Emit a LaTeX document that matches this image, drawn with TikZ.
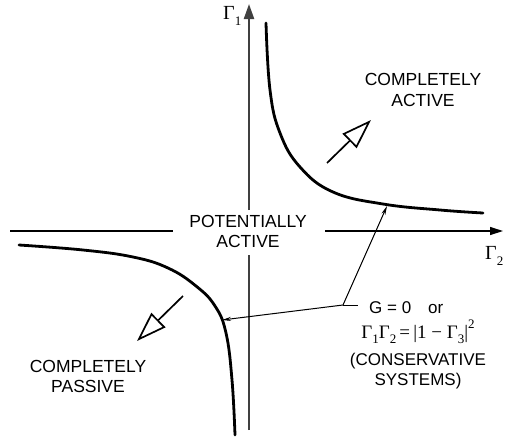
\documentclass[tikz,border=0pt]{standalone}
\usepackage{fontspec}
\setmainfont{Liberation Sans}
\newfontfamily\gfont{Liberation Serif}
\newcommand\Gsub[1]{\raisebox{-0.3em}{\fontsize{13}{13}\selectfont\gfont #1}}
\newcommand\Gsup[1]{\raisebox{0.5em}{\fontsize{13}{13}\selectfont\gfont #1}}
\usetikzlibrary{arrows.meta}
\begin{document}
\begin{tikzpicture}[x=1pt,y=-1pt,
  lbl/.style={font=\fontsize{17.5}{21}\selectfont, inner sep=0pt, anchor=base},
  slbl/.style={font=\fontsize{17}{20}\selectfont, inner sep=0pt, anchor=base},
  glbl/.style={font=\fontsize{20}{22}\selectfont\gfont, inner sep=0pt, anchor=base west},
  curve/.style={line width=2.8pt, line cap=round},
  vaxis/.style={line width=2.2pt, draw=black!75},
  haxis/.style={line width=1.3pt},
  big/.style={line width=1.7pt, -{Triangle[open, length=30pt, width=20pt, line width=1.7pt]}},
  lead/.style={line width=1pt, -{Stealth[length=9pt, width=4pt]}}
]
\useasboundingbox (0,0) rectangle (505,442);

% axes
\coordinate (vb) at (249,430);
\coordinate (vg1) at (249,255);
\coordinate (vg2) at (249,210);
\coordinate (vt) at (249,4);
\draw[vaxis] (vb) -- (vg1);
\draw[vaxis, -{Triangle[length=15pt, width=10pt]}] (vg2) -- (vt);
\coordinate (hl1) at (10,231);
\coordinate (hl2) at (173,231);
\coordinate (hr1) at (325,231);
\coordinate (hr2) at (503,231);
\draw[haxis] (hl1) -- (hl2);
\draw[haxis, -{Triangle[length=13pt, width=8pt]}] (hr1) -- (hr2);

\node[glbl] (g1) at (223,19) {Γ\Gsub{1}};
\node[glbl] (g2) at (485,259) {Γ\Gsub{2}};

% curves
\draw[curve] plot[smooth, tension=0.7] coordinates {(266,23) (270,90) (280,133) (300,167) (333,192) (383,204) (440,210) (483,213)};
\draw[curve] plot[smooth, tension=0.7] coordinates {(19,245) (83,250) (133,257) (168,268) (196,286) (215,306) (226,333) (232,380) (235,435)};

% big arrows
\coordinate (ua1) at (327,163);
\coordinate (ua2) at (371,120);
\draw[big] (ua1) -- (ua2);
\coordinate (la1) at (183,296);
\coordinate (la2) at (137,341);
\draw[big] (la1) -- (la2);

% region labels
\node[lbl] (ca1) at (423,85) {COMPLETELY};
\node[lbl] (ca2) at (423,106) {ACTIVE};
\node[lbl] (pa1) at (248,227) {POTENTIALLY};
\node[lbl] (pa2) at (248,247) {ACTIVE};
\node[lbl] (cp1) at (88,372) {COMPLETELY};
\node[lbl] (cp2) at (88,392) {PASSIVE};

% conservative label
\node[slbl, anchor=base west] (t1) at (369,313) {G = 0\quad or};
\node[slbl, font=\fontsize{19}{20}\selectfont\gfont] (t2) at (418,338) {Γ\Gsub{1}Γ\Gsub{2}\,=\,|1 − Γ\Gsub{3}|\Gsup{2}};
\node[slbl] (t3) at (418,365) {(CONSERVATIVE};
\node[slbl] (t4) at (418,385) {SYSTEMS)};

% leaders
\coordinate (j) at (343,305);
\coordinate (je) at (358,305);
\coordinate (pu) at (387,206);
\coordinate (pl) at (222,320);
\draw[line width=1pt] (j) -- (je);
\draw[lead] (j) -- (pu);
\draw[lead] (j) -- (pl);
\end{tikzpicture}
\end{document}
